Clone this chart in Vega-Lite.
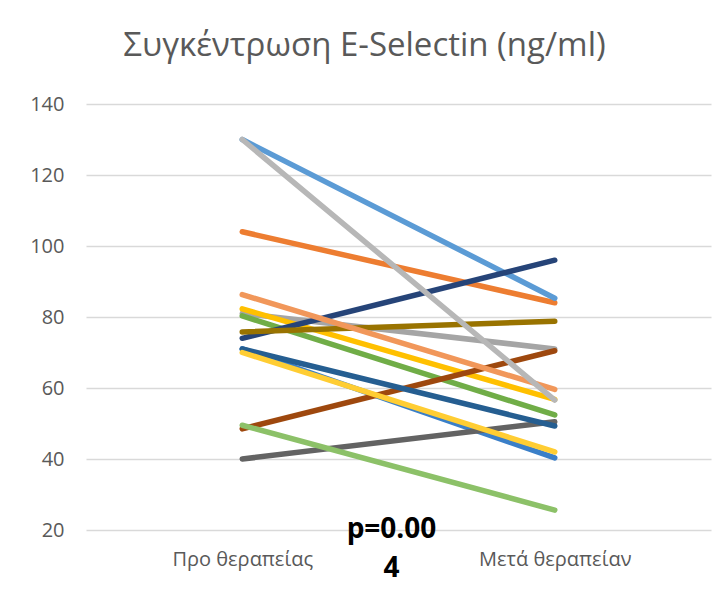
{
  "$schema": "https://vega.github.io/schema/vega-lite/v6.json",
  "width": 625,
  "height": 426,
  "autosize": {"type": "none"},
  "padding": {"left": 86, "top": 104, "right": 16, "bottom": 59},
  "background": "white",
  "title": {
    "text": "Συγκέντρωση E-Selectin (ng/ml)",
    "font": "Open Sans",
    "fontSize": 33,
    "fontWeight": "normal",
    "color": "#595959",
    "anchor": "middle",
    "dx": -34,
    "offset": 31
  },
  "config": {
    "view": {"stroke": null},
    "font": "Open Sans"
  },
  "data": {
    "values": [
      {"s": "s01", "t": "Προ θεραπείας", "v": 71},
      {"s": "s01", "t": "Μετά θεραπείαν", "v": 40.3},
      {"s": "s02", "t": "Προ θεραπείας", "v": 104},
      {"s": "s02", "t": "Μετά θεραπείαν", "v": 84},
      {"s": "s03", "t": "Προ θεραπείας", "v": 81},
      {"s": "s03", "t": "Μετά θεραπείαν", "v": 71},
      {"s": "s04", "t": "Προ θεραπείας", "v": 82.3},
      {"s": "s04", "t": "Μετά θεραπείαν", "v": 56.8},
      {"s": "s05", "t": "Προ θεραπείας", "v": 130},
      {"s": "s05", "t": "Μετά θεραπείαν", "v": 85.3},
      {"s": "s06", "t": "Προ θεραπείας", "v": 80.3},
      {"s": "s06", "t": "Μετά θεραπείαν", "v": 52.4},
      {"s": "s07", "t": "Προ θεραπείας", "v": 74},
      {"s": "s07", "t": "Μετά θεραπείαν", "v": 96},
      {"s": "s08", "t": "Προ θεραπείας", "v": 48.5},
      {"s": "s08", "t": "Μετά θεραπείαν", "v": 70.5},
      {"s": "s09", "t": "Προ θεραπείας", "v": 40},
      {"s": "s09", "t": "Μετά θεραπείαν", "v": 50.5},
      {"s": "s10", "t": "Προ θεραπείας", "v": 75.8},
      {"s": "s10", "t": "Μετά θεραπείαν", "v": 78.8},
      {"s": "s11", "t": "Προ θεραπείας", "v": 71},
      {"s": "s11", "t": "Μετά θεραπείαν", "v": 49.3},
      {"s": "s12", "t": "Προ θεραπείας", "v": 86.3},
      {"s": "s12", "t": "Μετά θεραπείαν", "v": 59.6},
      {"s": "s13", "t": "Προ θεραπείας", "v": 130},
      {"s": "s13", "t": "Μετά θεραπείαν", "v": 56.6},
      {"s": "s14", "t": "Προ θεραπείας", "v": 70},
      {"s": "s14", "t": "Μετά θεραπείαν", "v": 42},
      {"s": "s15", "t": "Προ θεραπείας", "v": 49.5},
      {"s": "s15", "t": "Μετά θεραπείαν", "v": 25.6}
    ]
  },
  "mark": {"type": "line", "strokeWidth": 5.5, "strokeCap": "round", "strokeJoin": "round"},
  "encoding": {
    "x": {
      "field": "t",
      "type": "nominal",
      "sort": ["Προ θεραπείας", "Μετά θεραπείαν"],
      "scale": {"type": "point", "padding": 0.5},
      "axis": {
        "title": ["p=0.00", "4"],
        "titleFont": "Open Sans",
        "titleFontSize": 28,
        "titleFontWeight": "bold",
        "titleColor": "#000000",
        "titleLineHeight": 39,
        "titleBaseline": "top",
        "titleAnchor": "start",
        "titleAlign": "center",
        "titleX": 305,
        "titleY": -15,
        "labelAngle": 0,
        "labelFont": "Open Sans",
        "labelFontSize": 20,
        "labelColor": "#595959",
        "labelPadding": 19,
        "ticks": false,
        "domain": false,
        "grid": false
      }
    },
    "y": {
      "field": "v",
      "type": "quantitative",
      "scale": {"domain": [20, 140], "nice": false, "zero": false},
      "axis": {
        "title": null,
        "values": [20, 40, 60, 80, 100, 120, 140],
        "labelFont": "Open Sans",
        "labelFontSize": 20,
        "labelColor": "#595959",
        "labelPadding": 22,
        "ticks": false,
        "domain": false,
        "grid": true,
        "gridColor": "#D9D9D9",
        "gridWidth": 1.5
      }
    },
    "color": {
      "field": "s",
      "type": "nominal",
      "legend": null,
      "scale": {
        "domain": ["s01","s02","s03","s04","s05","s06","s07","s08","s09","s10","s11","s12","s13","s14","s15"],
        "range": ["#3A7FC8","#ED7D31","#A5A5A5","#FFC000","#5B9BD5","#70AD47","#264478","#9E480E","#636363","#997300","#255E91","#F1975A","#B7B7B7","#FFCD33","#8CC168"]
      }
    }
  }
}
